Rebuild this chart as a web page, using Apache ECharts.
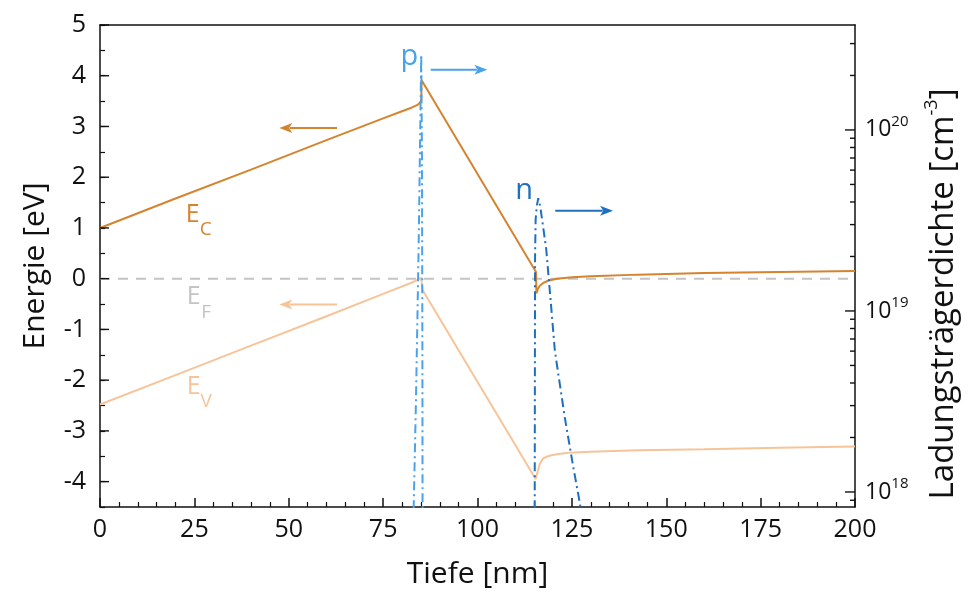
<!DOCTYPE html>
<html><head><meta charset="utf-8">
<script src="https://cdn.jsdelivr.net/npm/echarts@6/dist/echarts.min.js"></script>
<style>html,body{margin:0;padding:0;background:#fff}#c{width:973px;height:597px}</style>
</head><body><div id="c"></div>
<script>
// ---- data ----
const ecDepth = [0,20,40,60,75,80,82.5,84,84.8,85.1,85.2,115.5,115.6,116,116.5,117.5,118.7,121,125,130,142.5,160,180,200];
const ecEnergy = [1.0,1.58,2.15,2.73,3.16,3.30,3.37,3.42,3.47,3.52,3.91,0.13,-0.29,-0.2,-0.14,-0.08,-0.04,0.0,0.03,0.05,0.08,0.11,0.13,0.15];
const evDepth = [0,20,40,60,75,82.5,84.5,85.1,85.4,115.4,115.6,116,116.5,117.4,119,121,124,130,142.5,160,180,200];
const evEnergy = [-2.48,-1.9,-1.32,-0.74,-0.3,-0.08,-0.01,0.02,-0.22,-3.95,-3.97,-3.78,-3.65,-3.54,-3.49,-3.46,-3.43,-3.41,-3.38,-3.36,-3.33,-3.31];
const efDepth = [0,200];
const efEnergy = [0,0];
const pDepth = [82.95,83.1,83.7,84.4,84.8,85.1,85.3,85.4,85.45];
const pDensity = [6.3e17,8.3e17,3.2e18,2.2e19,8.9e19,2.6e20,6.3e19,6.3e18,6.3e17];
const nDepth = [115.15,115.2,115.25,115.4,115.7,116.1,116.6,117.3,118.2,119.2,120.5,123.1,125.3,127.1,127.6];
const nDensity = [6.3e17,4.0e18,2.0e19,3.2e19,3.8e19,4.2e19,3.8e19,3.0e19,2.2e19,1.26e19,6.0e18,2.6e18,1.4e18,8.7e17,7.4e17];
const energyTicks = [-4,-3,-2,-1,0,1,2,3,4,5];
const densityMin = 8.26e17, densityMax = 3.8e20;
const densityMajorTicks = [1e18,1e19,1e20];
const densityMinorTicks = [9e17,2e18,3e18,4e18,5e18,6e18,7e18,8e18,9e18,2e19,3e19,4e19,5e19,6e19,7e19,8e19,9e19,2e20,3e20];

// ---- style ----
const FF = '"Open Sans", "Noto Sans", sans-serif';
const cC = '#d4832f', cV = '#f7c49a', cF = '#c4c4c4', cP = '#4aa2ea', cN = '#1f6fc1', ink = '#111';
const zip = (a,b) => a.map((v,i)=>[v,b[i]]);
const dashDot = [9,4,2,4];

const chart = echarts.init(document.getElementById('c'), null, {renderer:'canvas'});
const axisLineS = {show:true, onZero:false, lineStyle:{color:ink, width:1.5}};

// tick marks drawn through the axis scales (x at the axis edge, value on the axis)
function tickSeries(yAxisIndex, edgeX, values, lenFn, dir){
  return {type:'custom', xAxisIndex:0, yAxisIndex, silent:true, clip:false, z:5,
    data: values.map(v=>[edgeX, v]),
    renderItem:(params, api)=>{
      const p = api.coord([api.value(0), api.value(1)]);
      const L = lenFn(api.value(1));
      return {type:'line', shape:{x1:p[0], y1:p[1], x2:p[0]+dir*L, y2:p[1]},
              style:{stroke:ink, lineWidth:1.4}};
    }};
}

chart.setOption({
  animation:false,
  grid:{left:100, right:115, top:25, bottom:90, containLabel:false},
  xAxis:[{
    type:'value', min:0, max:200, interval:25, position:'bottom',
    axisLine:axisLineS,
    axisTick:{inside:true, length:9, lineStyle:{color:ink, width:1.5}},
    minorTick:{show:true, splitNumber:5, length:5, lineStyle:{color:ink, width:1.2}},
    axisLabel:{fontSize:25, color:ink, margin:10, fontFamily:FF},
    splitLine:{show:false},
    name:'Tiefe [nm]', nameLocation:'middle', nameGap:52,
    nameTextStyle:{fontSize:30, color:ink, fontFamily:FF}
  },{
    type:'value', min:0, max:200, position:'top',
    axisLine:axisLineS, axisTick:{show:false}, axisLabel:{show:false}, splitLine:{show:false}
  }],
  yAxis:[{
    type:'value', min:-4.5, max:5, interval:0.5, position:'left',
    axisLine:axisLineS,
    axisTick:{inside:true, length:5, lineStyle:{color:ink, width:1.2}},
    axisLabel:{fontSize:25, color:ink, margin:14, fontFamily:FF, customValues:energyTicks},
    splitLine:{show:false},
    name:'Energie [eV]', nameLocation:'middle', nameGap:50,
    nameTextStyle:{fontSize:30, color:ink, fontFamily:FF}
  },{
    type:'log', logBase:10, min:densityMin, max:densityMax, position:'right',
    axisLine:axisLineS,
    axisTick:{show:false},
    axisLabel:{customValues:densityMajorTicks, margin:10, color:ink, fontFamily:FF,
      formatter:v=>'{b|10}{s|'+Math.round(Math.log10(v))+'}',
      rich:{b:{fontSize:23, lineHeight:32, fontFamily:FF, color:ink},
            s:{fontSize:15, lineHeight:16, verticalAlign:'top', fontFamily:FF, color:ink}}},
    splitLine:{show:false}, minorTick:{show:false},
    name:'Ladungsträgerdichte [cm{s|-3}]', nameLocation:'middle', nameGap:68,
    nameTextStyle:{fontSize:33, lineHeight:42, color:ink, fontFamily:FF, padding:[0,56,0,0],
      rich:{s:{fontSize:18, lineHeight:20, verticalAlign:'top', fontFamily:FF, color:ink}}}
  }],
  series:[
    {type:'line', name:'EF', yAxisIndex:0, data:zip(efDepth,efEnergy), symbol:'none', silent:true,
     lineStyle:{color:cF, width:2, type:[10,8]}},
    {type:'line', name:'EV', yAxisIndex:0, data:zip(evDepth,evEnergy), symbol:'none', lineStyle:{color:cV, width:2}},
    {type:'line', name:'EC', yAxisIndex:0, data:zip(ecDepth,ecEnergy), symbol:'none', lineStyle:{color:cC, width:2}},
    {type:'line', name:'p', yAxisIndex:1, data:zip(pDepth,pDensity), symbol:'none', lineStyle:{color:cP, width:2, type:dashDot}},
    {type:'line', name:'n', yAxisIndex:1, data:zip(nDepth,nDensity), symbol:'none', lineStyle:{color:cN, width:2, type:dashDot}},
    tickSeries(0, 0, energyTicks, ()=>9, 1),
    tickSeries(1, 200, densityMajorTicks.concat(densityMinorTicks),
      v => Math.abs(Math.log10(v) - Math.round(Math.log10(v))) < 1e-6 ? 10 : 5, -1)
  ]
});

// ---- annotations (positions in data coordinates of the energy axis) ----
const labels = [
  {t:'E', x:22.7, y:1.263, s:25, c:cC}, {t:'C', x:26.4, y:0.967, s:19, c:cC},
  {t:'E', x:23.0, y:-0.355, s:25, c:cF}, {t:'F', x:26.8, y:-0.66, s:19, c:cF},
  {t:'E', x:23.0, y:-2.13, s:25, c:cV}, {t:'V', x:26.6, y:-2.43, s:19, c:cV},
  {t:'p', x:79.6, y:4.37, s:29, c:cP}, {t:'n', x:110.0, y:1.74, s:29, c:cN}
];
const arrows = [
  {x0:62.8, x1:47.5, y:2.97, c:cC}, {x0:62.8, x1:47.5, y:-0.51, c:cV},
  {x0:87.6, x1:102.6, y:4.12, c:cP}, {x0:120.6, x1:135.9, y:1.34, c:cN}
];
const px = (x,y) => chart.convertToPixel({xAxisIndex:0, yAxisIndex:0}, [x,y]);
const g = [];
labels.forEach(l=>{
  const p = px(l.x,l.y);
  g.push({type:'text', x:p[0], y:p[1], silent:true,
    style:{text:l.t, fontSize:l.s, fontFamily:FF, fill:l.c, align:'left', verticalAlign:'middle'}});
});
arrows.forEach(a=>{
  const p0 = px(a.x0,a.y), p1 = px(a.x1,a.y);
  const dir = Math.sign(p1[0]-p0[0]);
  const L = 13, W = 5;
  g.push({type:'line', silent:true, shape:{x1:p0[0], y1:p0[1], x2:p1[0]-dir*L*0.8, y2:p1[1]},
    style:{stroke:a.c, lineWidth:2}});
  g.push({type:'polygon', silent:true,
    shape:{points:[[p1[0],p1[1]],[p1[0]-dir*L,p1[1]-W],[p1[0]-dir*L*0.75,p1[1]],[p1[0]-dir*L,p1[1]+W]]},
    style:{fill:a.c}});
});
chart.setOption({graphic:g});
</script>
</body></html>
